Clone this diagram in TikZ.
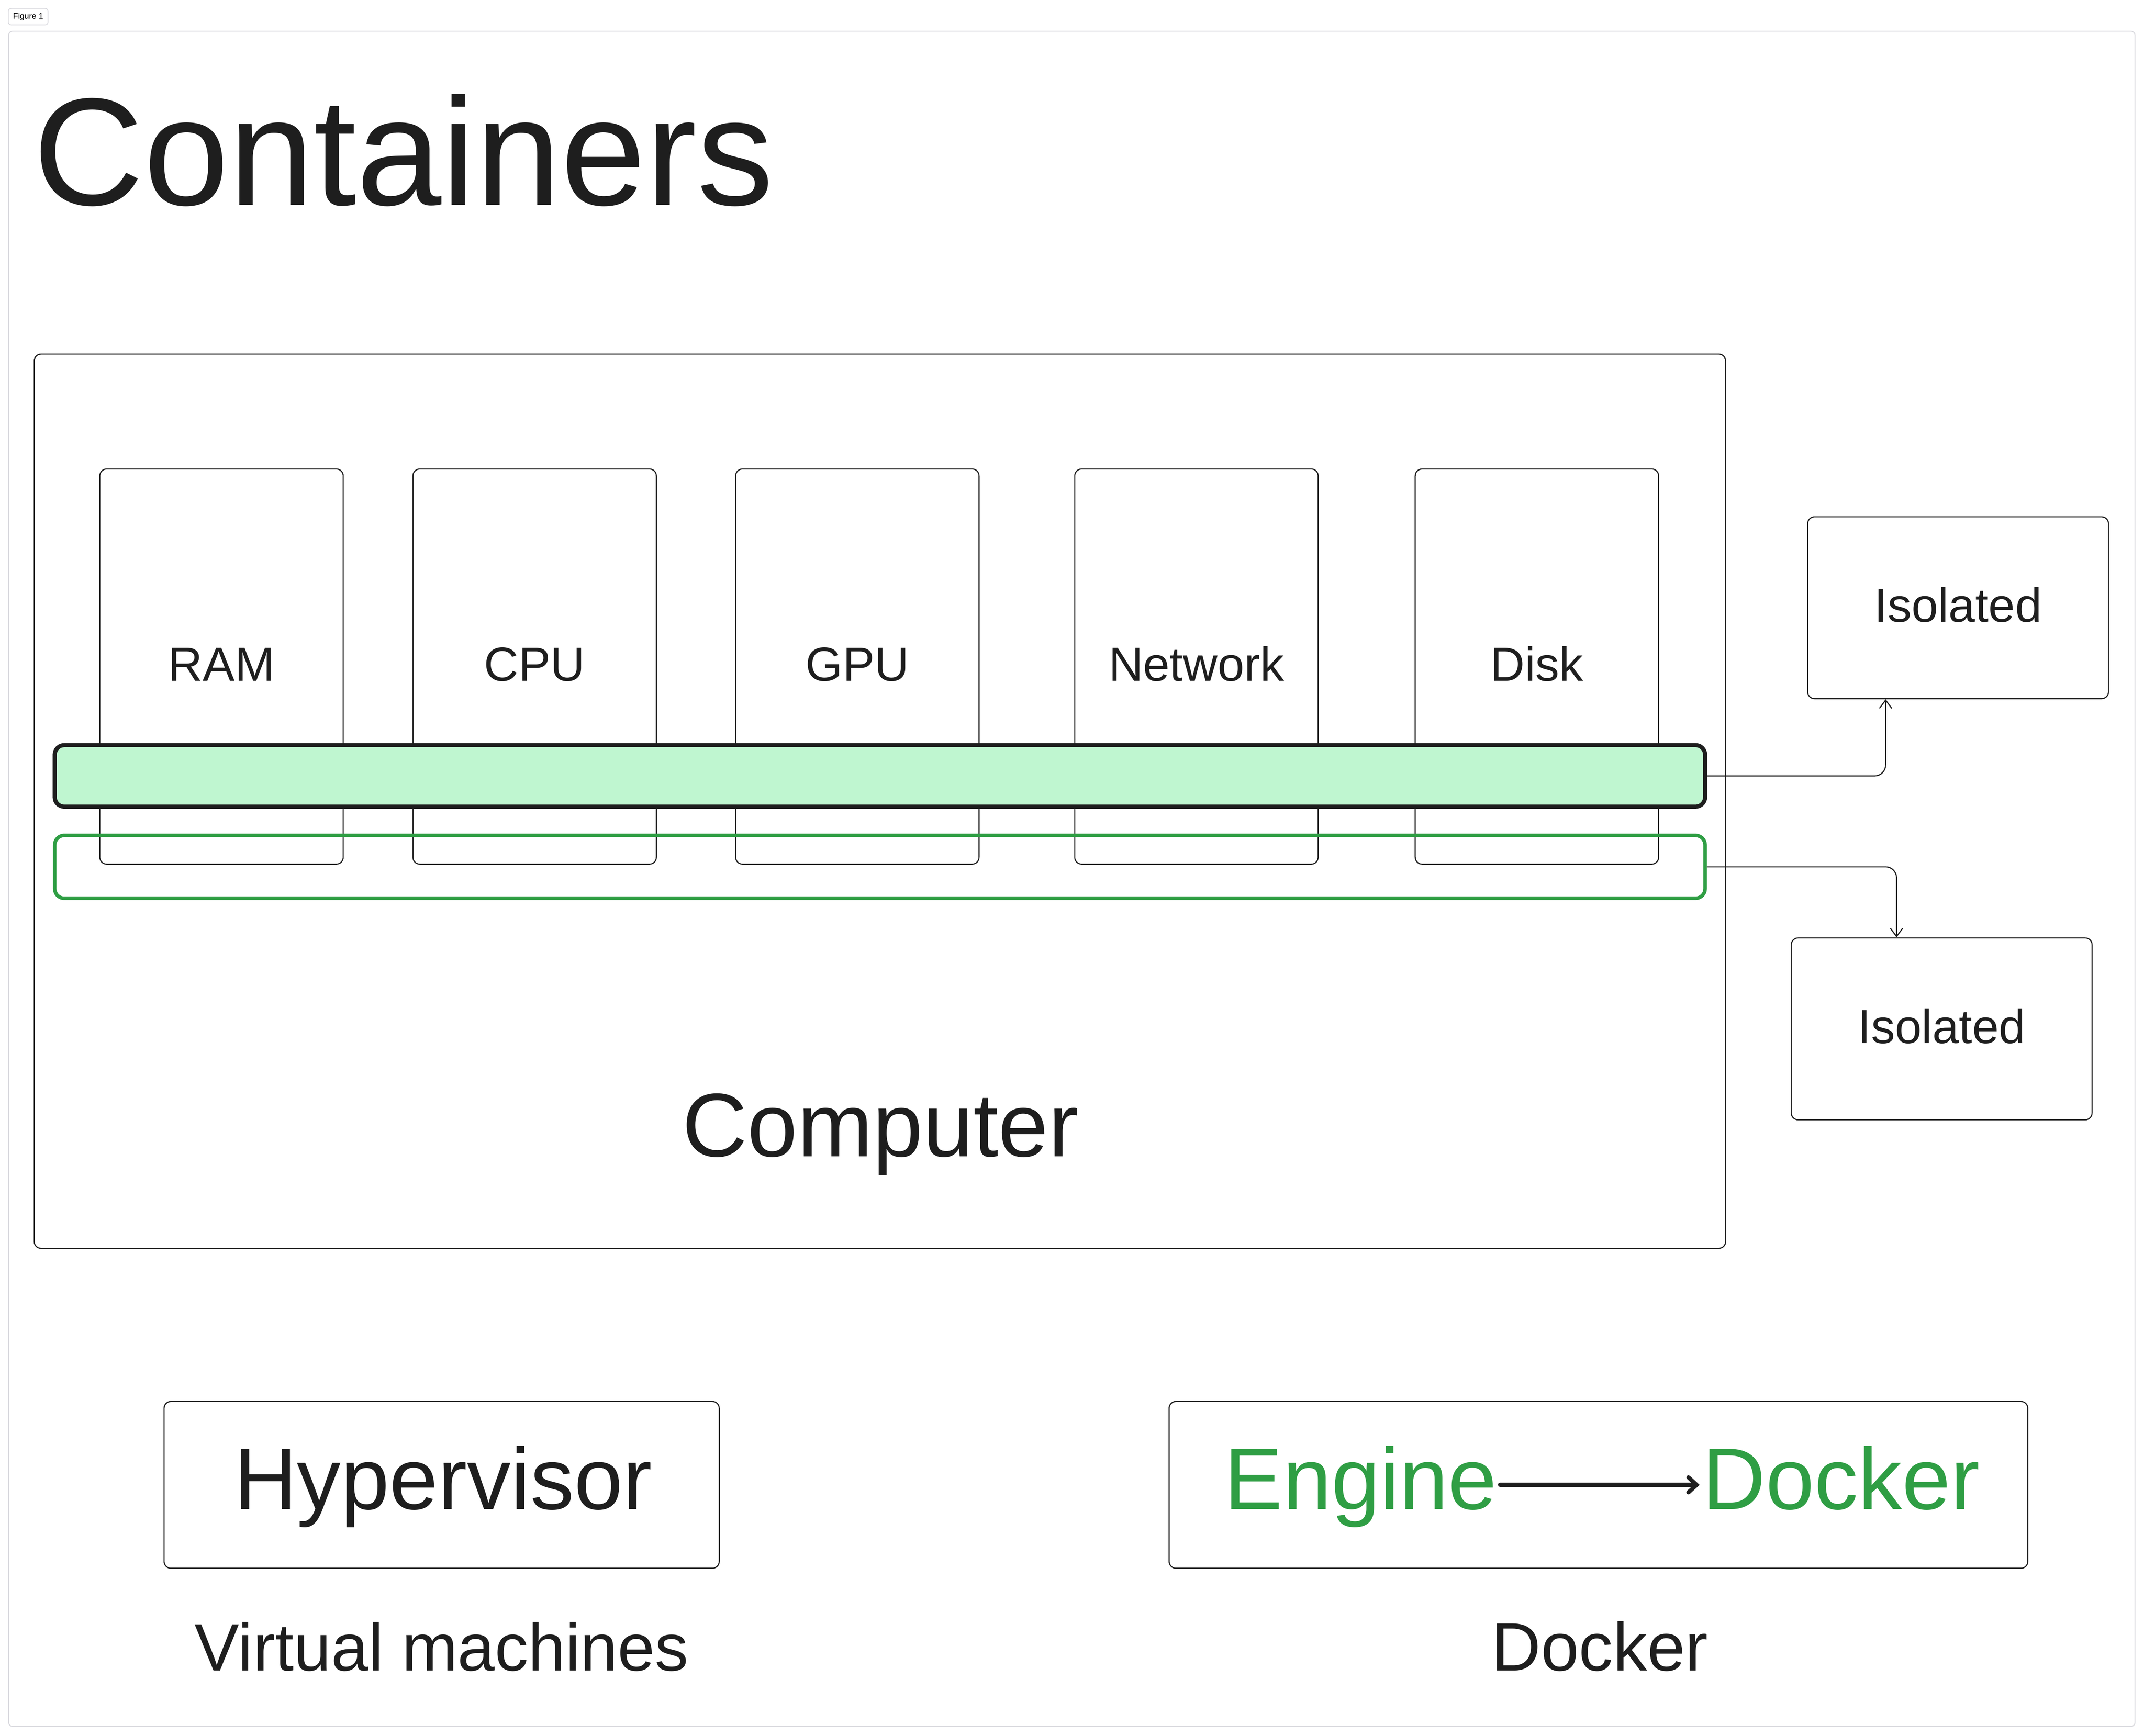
\documentclass[tikz,border=0pt]{standalone}
\usepackage{fontspec}
\setmainfont{Liberation Sans}
\usetikzlibrary{arrows.meta}
\definecolor{ink}{HTML}{1E1E1E}
\definecolor{grn}{HTML}{2F9E44}
\definecolor{mint}{RGB}{191,246,208}
\definecolor{frm}{HTML}{DADADF}
\newcommand{\fs}[1]{\fontsize{#1}{#1}\selectfont}
\begin{document}
\begin{tikzpicture}[x=1pt,y=-1pt,
  thinbox/.style={draw=ink, line width=0.8pt, rounded corners=5pt, inner sep=0pt},
  resbox/.style={thinbox, minimum width=178pt, minimum height=289pt},
  isobox/.style={thinbox, minimum width=220pt, minimum height=133pt},
  conn/.style={draw=ink, line width=0.8pt, rounded corners=8pt, -{Straight Barb[length=6pt,width=9pt]}},
  lbl/.style={inner sep=0pt, text=ink},
  reslbl/.style={lbl, anchor=base, font=\fs{35}}]
\useasboundingbox (0,0) rectangle (1568,1269.4);
% page frame and figure tag
\draw[frm, line width=0.7pt, rounded corners=3pt] (6.3,22.8) rectangle (1561.4,1262.7);
\node[draw=frm, line width=0.6pt, rounded corners=2pt, minimum width=29pt, minimum height=12pt, inner sep=0pt, font=\fs{6}] (tag) at (20.6,12.2) {Figure 1};
% title
\node[lbl, anchor=base west, font=\fs{112}] (title) at (24,150) {Containers};
% computer
\node[thinbox, minimum width=1237pt, minimum height=654pt] (comp) at (643.5,586) {};
\node[lbl, anchor=base, font=\fs{66}] (complbl) at (644,846) {Computer};
% resources
\node[resbox] (ram) at (162,487.5) {};
\node[resbox] (cpu) at (391,487.5) {};
\node[resbox] (gpu) at (627,487.5) {};
\node[resbox] (net) at (875,487.5) {};
\node[resbox] (disk) at (1124,487.5) {};
\node[reslbl] (ramlbl) at (162,498) {RAM};
\node[reslbl] (cpulbl) at (391,498) {CPU};
\node[reslbl] (gpulbl) at (627,498) {GPU};
\node[reslbl] (netlbl) at (875,498) {Network};
\node[reslbl] (disklbl) at (1124,498) {Disk};
% bars
\node[draw=ink, fill=mint, line width=3pt, rounded corners=7pt, minimum width=1207pt, minimum height=45pt, inner sep=0pt] (bar) at (643.5,567.5) {};
\node[draw=grn, line width=2.6pt, rounded corners=7pt, minimum width=1207pt, minimum height=46pt, inner sep=0pt] (bar2) at (643.5,634) {};
% isolated
\node[isobox] (iso1) at (1432,444.5) {};
\node[reslbl] (iso1lbl) at (1432,455) {Isolated};
\node[isobox] (iso2) at (1420,752.5) {};
\node[reslbl] (iso2lbl) at (1420,763) {Isolated};
\draw[conn] (bar.east) -| ([xshift=-53pt]iso1.south);
\draw[conn] (bar2.east) -| ([xshift=-33pt]iso2.north);
% bottom
\node[thinbox, minimum width=406pt, minimum height=122pt] (hyp) at (323,1086) {};
\node[lbl, anchor=base, font=\fs{64}] (hyplbl) at (324,1104) {Hypervisor};
\node[lbl, anchor=base, font=\fs{49}] (vm) at (323,1222) {Virtual machines};
\node[thinbox, minimum width=628pt, minimum height=122pt] (dbox) at (1169,1086) {};
\node[inner sep=0pt, inner xsep=2pt, anchor=base east, text=grn, font=\fs{64}] (eng) at (1097,1104) {Engine};
\node[inner sep=0pt, inner xsep=2pt, anchor=base west, text=grn, font=\fs{64}] (dock) at (1243,1104) {Docker};
\draw[ink, line width=3pt, line cap=round, -{Straight Barb[length=6pt,width=11pt,line cap=round]}] ([yshift=18pt]eng.base east) -- ([yshift=18pt]dock.base west);
\node[lbl, anchor=base, font=\fs{50}] (docklbl) at (1170,1222) {Docker};
\end{tikzpicture}
\end{document}
